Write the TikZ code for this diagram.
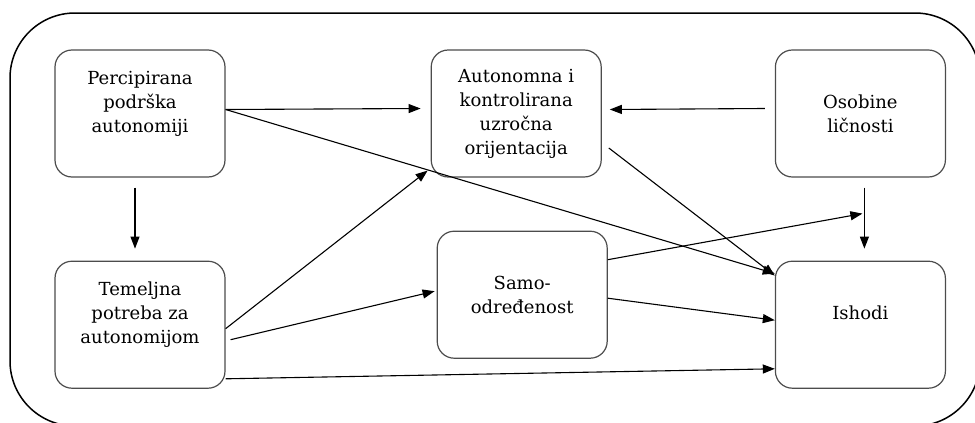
\documentclass[tikz,border=0pt]{standalone}
\usepackage{fontspec}
\setmainfont{DejaVu Serif}
\usetikzlibrary{arrows.meta, positioning, shapes, calc}
\tikzset{
  factor/.style={draw=black!70, line width=1.2pt, rectangle, rounded corners=17pt, minimum width=170pt, minimum height=127pt, align=center, inner sep=2pt},
  link/.style={-{Triangle[length=12pt, width=9pt]}, line width=1.1pt},
  frame/.style={draw, line width=1.5pt, rounded corners=65pt},
}

\begin{document}
\begin{tikzpicture}[node distance=83pt, font=\fontsize{18}{24}\selectfont]
  \useasboundingbox (0,0) rectangle (975pt,-423pt);
  \clip (0,0) rectangle (975pt,-423pt);
  \draw[frame] (10pt,-13pt) rectangle (980pt,-426pt);

  \node[factor] (perc) at (140pt,-113.5pt) {Percipirana\\podrška\\autonomiji\\~};
  \node[factor, right=205pt of perc] (orient) {Autonomna i\\kontrolirana\\uzročna\\orijentacija};
  \node[factor, right=173pt of orient] (osob) {Osobine\\ličnosti};
  \node[factor, below=of perc] (teme) {Temeljna\\potreba za\\autonomijom\\~};
  \node[factor, below=53pt of orient, xshift=6pt] (samo) {Samo-\\određenost};
  \node[factor, below=of osob] (ishod) {Ishodi\\~};
  \coordinate (join) at ([xshift=2pt, yshift=-36pt]osob.south);

  \draw[link] ([yshift=4pt]perc.east) -- ([xshift=-10pt, yshift=5pt]orient.west);
  \draw[link] ([yshift=4pt]perc.east) -- ([yshift=-13pt]ishod.north west);
  \draw[link] ([xshift=-5pt, yshift=-10pt]perc.south) -- ([xshift=-5pt, yshift=12pt]teme.north);
  \draw[link] ([yshift=-4pt]teme.east) -- ([xshift=-3pt, yshift=7pt]orient.south west);
  \draw[link] ([xshift=5pt, yshift=-15pt]teme.east) -- ([xshift=-2pt, yshift=3.5pt]samo.west);
  \draw[link] ([yshift=10pt]teme.south east) -- ([yshift=20pt]ishod.south west);
  \draw[link] ([yshift=-3.5pt]samo.east) -- ([yshift=4.5pt]ishod.west);
  \draw[link] ([yshift=35pt]samo.east) -- (join);
  \draw[link] ([xshift=4pt, yshift=-10pt]osob.south) -- ([xshift=4pt, yshift=12pt]ishod.north);
  \draw[link] ([xshift=-10pt, yshift=5pt]osob.west) -- ([xshift=8pt, yshift=4pt]orient.east);
  \draw[link] ([xshift=7pt, yshift=-34.5pt]orient.east) -- ([yshift=-15pt]ishod.north west);
\end{tikzpicture}
\end{document}
